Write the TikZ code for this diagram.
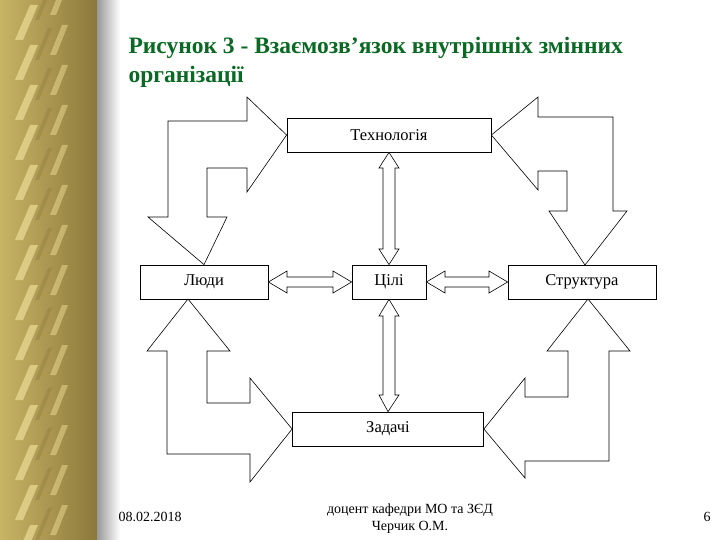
\documentclass[tikz,border=0pt]{standalone}
\usepackage{fontspec}
\setmainfont{Liberation Serif}
\definecolor{titlegreen}{RGB}{10,105,35}
\definecolor{gold}{RGB}{200,180,100}
\definecolor{goldl}{RGB}{235,220,150}
\definecolor{goldd}{RGB}{140,120,60}
\begin{document}
\begin{tikzpicture}[x=1pt,y=-1pt,
  box/.style={draw,thick,fill=white,minimum height=34pt,inner sep=0pt,font=\fontsize{16.5}{18}\selectfont},
  blk/.style={draw,fill=white,line width=0.6pt},
  foot/.style={font=\fontsize{14}{17}\selectfont,align=center}]
\useasboundingbox (0,0) rectangle (720,540);
\fill[white] (0,0) rectangle (720,540);
% left border
\shade[left color=gold, right color=goldd] (0,0) rectangle (97,540);
\foreach \i in {0,40,...,620}{
  \fill[goldl,opacity=0.7] (15,\i) -- (30,\i-35) -- (38,\i-35) -- (23,\i) -- cycle;
  \fill[goldl,opacity=0.5] (50,\i+15) -- (62,\i-15) -- (68,\i-15) -- (56,\i+15) -- cycle;
  \fill[goldd,opacity=0.35] (35,\i+20) -- (48,\i-12) -- (52,\i-12) -- (39,\i+20) -- cycle;
}
\shade[left color=gray!80, right color=white] (97,0) rectangle (120,540);
% title
\node[anchor=west,text=titlegreen,font=\fontsize{23.5}{29}\selectfont\bfseries,align=left] (title) at (125,62)
  {Рисунок 3 - Взаємозв’язок внутрішніх змінних\\організації};
% boxes
\node[box,minimum width=204pt] (tech) at (389,135) {Технологія};
\node[box,minimum width=128pt] (people) at (204,282) {Люди};
\node[box,minimum width=74pt] (goals) at (389,282) {Цілі};
\node[box,minimum width=148pt] (struct) at (582,282) {Структура};
\node[box,minimum width=191pt] (tasks) at (388,429) {Задачі};
% big block arrows
\draw[blk] (people.north) -- (227,217) -- (207,217) -- (207,168) -- (247,168) -- (247,192) -- (tech.west) -- (247,97) -- (247,121) -- (168,121) -- (168,217) -- (148,217) -- cycle;
\draw[blk] (tech.east) -- (538,97) -- (538,117) -- (613,117) -- (613,211) -- (627,211) -- (585,265) -- (549,211) -- (567,211) -- (567,171) -- (538,171) -- (538,190) -- cycle;
\draw[blk] (188,299) -- (230,351) -- (207,351) -- (207,403) -- (250,403) -- (250,378) -- (tasks.west) -- (250,482) -- (250,454) -- (167,454) -- (167,351) -- (147,351) -- cycle;
\draw[blk] (588,299) -- (630,351) -- (609,351) -- (609,461) -- (525,461) -- (525,478) -- (tasks.east) -- (525,378) -- (525,397) -- (568,397) -- (568,351) -- (547,351) -- cycle;
% double arrows vertical
\draw[blk] (tech.south) -- (399,168) -- (395,168) -- (395,249) -- (399,249) -- (goals.north) -- (379,249) -- (383,249) -- (383,168) -- (379,168) -- cycle;
\draw[blk] (goals.south) -- (399,316) -- (395,316) -- (395,395) -- (399,395) -- (tasks.north) -- (379,395) -- (383,395) -- (383,316) -- (379,316) -- cycle;
% double arrows horizontal
\draw[blk] (people.east) -- (287,271) -- (287,277) -- (333,277) -- (333,271) -- (goals.west) -- (333,293) -- (333,287) -- (287,287) -- (287,293) -- cycle;
\draw[blk] (goals.east) -- (445,271) -- (445,277) -- (489,277) -- (489,271) -- (struct.west) -- (489,293) -- (489,287) -- (445,287) -- (445,293) -- cycle;
% footer
\node[foot,anchor=west] (date) at (115,517) {08.02.2018};
\node[foot] (author) at (410,519) {доцент кафедри МО та ЗЄД\\Черчик О.М.};
\node[foot] (page) at (707,517) {6};
\end{tikzpicture}
\end{document}
